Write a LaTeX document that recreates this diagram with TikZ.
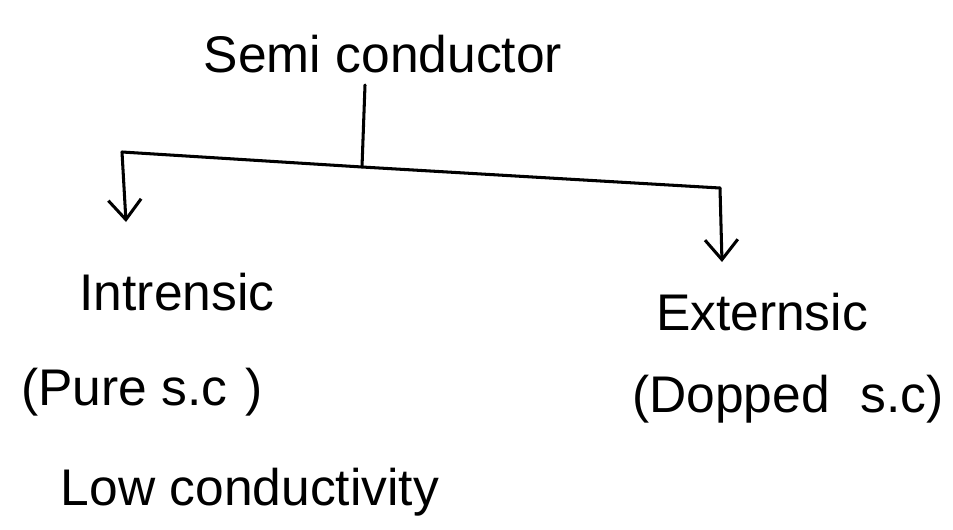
\documentclass[tikz,border=0pt]{standalone}
\usepackage{fontspec}
\setmainfont{Liberation Sans}
\usetikzlibrary{arrows.meta}
\begin{document}
\begin{tikzpicture}[x=0.03cm,y=-0.03cm,
  txt/.style={font=\fontsize{44}{50}\selectfont, inner sep=0pt, anchor=base},
  wire/.style={line width=2.6pt, line cap=round, line join=round},
  arrowwire/.style={wire, -{Straight Barb[length=17pt,width=28pt,line width=2.6pt]}}]
\useasboundingbox (0,0) rectangle (953,529);

% labels
\node[txt] (root) at (383,72)  {Semi conductor};
\node[txt] (intr) at (177,310) {Intrensic};
\node[txt] (pure) at (142,405) {(Pure s.c\hspace{0.35em})};
\node[txt] (low)  at (250,505) {Low conductivity};
\node[txt] (extr) at (762,330) {Externsic};
\node[txt] (dop)  at (788,412) {(Dopped\hspace{0.6em}s.c)};

% branching points
\coordinate (stem) at (365,85);
\coordinate (j)    at (362,167);
\coordinate (lc)   at (122,152);
\coordinate (rc)   at (720,188);
\coordinate (ltip) at (126,222);
\coordinate (rtip) at (722,262);

% tree connectors
\draw[wire] (stem) -- (j);
\draw[wire] (lc) -- (j) -- (rc);
\draw[arrowwire] (lc) -- (ltip);
\draw[arrowwire] (rc) -- (rtip);
\end{tikzpicture}
\end{document}
